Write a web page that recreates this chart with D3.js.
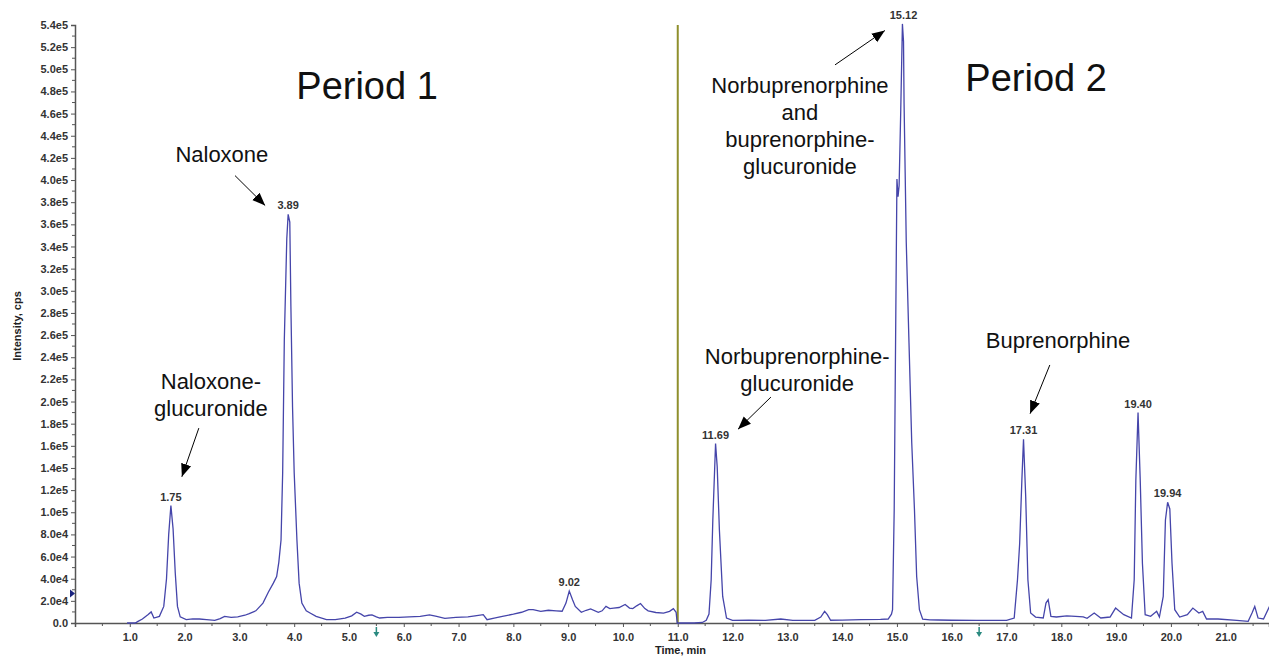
<!DOCTYPE html>
<html>
<head>
<meta charset="utf-8">
<style>
  body{margin:0;background:#fff;}
  text{font-family:Arial,"Liberation Sans",sans-serif;}
  .tick text{font-weight:bold;font-size:11px;fill:#333;}
  .ann{font-size:22px;fill:#111;}
  .period{font-size:38px;fill:#111;}
  .peak{font-weight:bold;font-size:11px;fill:#333;}
</style>
<script src="https://d3js.org/d3.v7.min.js"></script>
</head>
<body>
<script>
// retention time (min) and intensity (cps)
const times = [
  0.95,1.10,1.15,1.23,1.33,1.39,1.44,1.54,1.62,1.67,1.71,1.75,1.79,1.83,1.87,1.92,2.03,2.15,2.27,2.40,
  2.55,2.65,2.73,2.85,2.97,3.10,3.18,3.30,3.43,3.53,3.62,3.68,3.72,3.76,3.79,3.82,3.865,3.89,3.92,3.94,
  3.97,4.00,4.05,4.09,4.14,4.22,4.29,4.40,4.59,4.75,4.93,5.05,5.14,5.22,5.28,5.36,5.42,5.50,5.56,5.70,
  5.91,6.10,6.30,6.47,6.60,6.75,6.95,7.17,7.30,7.45,7.52,7.65,7.80,8.00,8.15,8.28,8.36,8.50,8.64,8.78,
  8.89,8.96,9.02,9.08,9.13,9.24,9.33,9.41,9.55,9.62,9.69,9.76,9.83,9.93,10.04,10.12,10.18,10.25,10.32,10.40,
  10.46,10.60,10.74,10.85,10.92,10.97,10.99,
  11.30,11.45,11.52,11.57,11.61,11.64,11.69,11.72,11.76,11.82,11.89,12.00,12.30,12.60,12.88,13.10,13.50,13.61,13.68,
  13.73,13.79,14.00,14.35,14.70,14.84,14.90,14.92,14.95,14.98,15.00,15.02,15.04,15.07,15.10,15.12,15.13,15.15,15.17,
  15.22,15.27,15.32,15.36,15.41,15.47,15.60,15.75,16.00,16.45,16.80,17.00,17.14,17.20,17.24,17.28,17.31,17.35,17.39,
  17.44,17.53,17.67,17.72,17.76,17.81,17.91,18.10,18.26,18.40,18.47,18.60,18.72,18.89,18.99,19.05,19.14,19.28,19.33,
  19.36,19.40,19.44,19.48,19.53,19.63,19.74,19.79,19.86,19.90,19.94,19.98,20.02,20.07,20.16,20.30,20.40,20.51,20.58,
  20.65,20.86,21.20,21.41,21.48,21.53,21.59,21.69,21.80
];
const intensity = [
  0,0,1500,3600,7500,10000,4500,6000,15000,40000,80000,106000,85000,45000,15000,5500,3000,3800,3600,3000,
  2400,4000,6000,5000,5500,7000,8500,11000,18000,28000,36000,42000,55000,75000,136000,256000,347000,369000,362000,286000,
  195000,136000,75000,36000,18000,11000,9000,6000,3000,3000,4500,6500,9700,8000,6000,7000,7300,5500,4500,5000,
  5000,5500,6000,7300,6000,4200,5000,5500,6500,7600,3000,4500,6000,8000,9700,12000,12000,10500,11500,11000,
  10600,18000,28800,21000,15000,9700,11500,12700,9700,11000,15000,13000,13500,14000,16700,13500,13000,15500,17600,13000,
  11000,9500,9000,10500,13000,9700,0,
  0,500,2500,8000,39000,93000,162000,141000,84000,24000,4500,2400,2600,2400,3600,2400,2400,5400,10500,
  7500,2500,2600,3000,3200,3600,8000,12000,102000,283000,401000,385000,395000,464000,541000,525000,470000,407000,344000,
  253000,163000,102000,42000,12000,3500,2800,2700,2500,2400,2300,2400,4500,39000,72000,129000,166000,114000,39000,
  9000,5400,4500,18000,21000,6000,5400,6500,6000,5500,4200,9000,4500,5400,13500,11000,7500,4500,39000,
  129000,190000,129000,54000,7500,6000,10500,5400,24000,93000,109000,103000,54000,12000,5400,7500,13500,9000,10500,
  3600,3600,2400,1500,9000,15000,4500,3600,15000
];

const peakTimes = [1.75, 3.89, 9.02, 11.69, 15.12, 17.31, 19.40, 19.94];
const peakValues = [106000, 369000, 28800, 162000, 541000, 166000, 190000, 109000];

const xTicks = d3.range(1, 22, 1);
const yTicks = d3.range(0, 540001, 20000);

const annTexts = [
  ["Naloxone"],
  ["Naloxone-", "glucuronide"],
  ["Norbuprenorphine-", "glucuronide"],
  ["Norbuprenorphine", "and", "buprenorphine-", "glucuronide"],
  ["Buprenorphine"]
];
const periodTexts = ["Period 1", "Period 2"];

const w = 1269, h = 656;
const svg = d3.select("body").append("svg").attr("width", w).attr("height", h);

const x = d3.scaleLinear().domain([0, 21.79]).range([75, 1269]);
const y = d3.scaleLinear().domain([0, 540000]).range([623, 25]);

// axes
const yAxis = d3.axisLeft(y).tickValues(yTicks).tickSize(4).tickPadding(3)
  .tickFormat(d => d === 0 ? "0.0" : d.toExponential(1).replace("e+", "e"));
const gy = svg.append("g").attr("transform", "translate(" + x(0) + ",0)").call(yAxis);
gy.select(".domain").attr("stroke", "#555").attr("stroke-width", 1.5);
gy.selectAll(".tick line").attr("stroke", "#555");
gy.selectAll(".minor").data(d3.range(10000, 540000, 20000)).enter().append("line")
  .attr("x1", -3).attr("x2", 0).attr("y1", d => y(d)).attr("y2", d => y(d)).attr("stroke", "#555");

const xAxis = d3.axisBottom(x).tickValues(xTicks).tickSize(4).tickPadding(6)
  .tickFormat(d3.format(".1f"));
const gx = svg.append("g").attr("transform", "translate(0," + y(0) + ")").call(xAxis);
gx.select(".domain").attr("stroke", "#555").attr("stroke-width", 1.5);
gx.selectAll(".tick line").attr("stroke", "#555");
gx.selectAll(".minor").data(d3.range(0.5, 21.8, 1)).enter().append("line")
  .attr("y1", 0).attr("y2", 3).attr("x1", d => x(d)).attr("x2", d => x(d)).attr("stroke", "#555");

svg.append("text").attr("transform", "translate(21,326) rotate(-90)")
  .attr("text-anchor", "middle").attr("font-weight", "bold").attr("font-size", 11).attr("fill", "#222")
  .text("Intensity, cps");
svg.append("text").attr("x", x(11.05)).attr("y", 654)
  .attr("text-anchor", "middle").attr("font-weight", "bold").attr("font-size", 11).attr("fill", "#222")
  .text("Time, min");

// period divider
svg.append("line").attr("x1", x(11)).attr("x2", x(11)).attr("y1", y(0)).attr("y2", y(540000))
  .attr("stroke", "#8f8f2c").attr("stroke-width", 2);

// trace
const line = d3.line().x((d, i) => x(times[i])).y(d => y(d));
svg.append("path").datum(intensity).attr("d", line)
  .attr("fill", "none").attr("stroke", "#4545aa").attr("stroke-width", 1.3);

// peak labels
svg.selectAll(".peak").data(peakTimes).enter().append("text").attr("class", "peak")
  .attr("x", d => x(d)).attr("y", (d, i) => y(peakValues[i]) - 5)
  .attr("text-anchor", "middle").text(d => d.toFixed(2));

// markers: event arrows below axis and left-side triangle
[5.5, 16.5].forEach(t => {
  svg.append("line").attr("x1", x(t)).attr("x2", x(t)).attr("y1", 627).attr("y2", 634)
    .attr("stroke", "#2a8a80").attr("stroke-width", 1.5);
  svg.append("path").attr("d", `M${x(t) - 3},632 L${x(t) + 3},632 L${x(t)},637 Z`).attr("fill", "#2a8a80");
});
svg.append("path")
  .attr("d", `M${x(0) - 5},${y(26700) - 4} L${x(0)},${y(26700)} L${x(0) - 5},${y(26700) + 4} Z`)
  .attr("fill", "#1a237e");

// annotations
svg.append("defs").append("marker").attr("id", "head").attr("viewBox", "0 0 10 10")
  .attr("refX", 10).attr("refY", 5).attr("markerWidth", 13).attr("markerHeight", 13)
  .attr("markerUnits", "userSpaceOnUse").attr("orient", "auto")
  .append("path").attr("d", "M0,1 L10,5 L0,9 Z").attr("fill", "#000");

const annPos = [
  {t: 2.68, v: 416000, a: [2.92, 404000, 3.47, 377000]},
  {t: 2.48, v: 211000, a: [2.26, 176000, 1.95, 132000]},
  {t: 13.18, v: 234000, a: [12.70, 204000, 12.10, 175000]},
  {t: 13.23, v: 479000, a: [13.87, 504000, 14.78, 535000]},
  {t: 17.94, v: 248000, a: [17.79, 233000, 17.43, 189000]}
];
annTexts.forEach((lines, k) => {
  const p = annPos[k];
  const txt = svg.append("text").attr("class", "ann").attr("text-anchor", "middle");
  lines.forEach((s, j) => {
    txt.append("tspan").attr("x", x(p.t)).attr("y", y(p.v) + j * 27).text(s);
  });
  svg.append("line").attr("x1", x(p.a[0])).attr("y1", y(p.a[1]))
    .attr("x2", x(p.a[2])).attr("y2", y(p.a[3]))
    .attr("stroke", "#000").attr("stroke-width", 1).attr("marker-end", "url(#head)");
});

const periodPos = [[5.33, 473000], [17.54, 480000]];
periodTexts.forEach((s, k) => {
  svg.append("text").attr("class", "period").attr("text-anchor", "middle")
    .attr("x", x(periodPos[k][0])).attr("y", y(periodPos[k][1])).text(s);
});
</script>
</body>
</html>
